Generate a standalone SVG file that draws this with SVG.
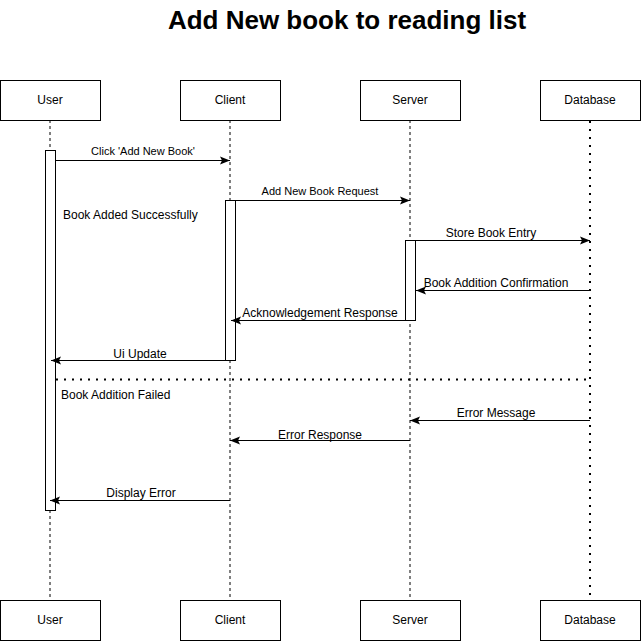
<svg xmlns="http://www.w3.org/2000/svg" width="642" height="641" viewBox="0 0 642 641">
<style>
.box{fill:#fff;stroke:#000;stroke-width:1}
.lbl{font-family:"Liberation Sans",Arial,sans-serif;font-size:12px;fill:#000;text-anchor:middle}
.msg{font-family:"Liberation Sans",Arial,sans-serif;font-size:12px;fill:#000;text-anchor:middle}
.sm{font-size:11px}
.note{font-family:"Liberation Sans",Arial,sans-serif;font-size:12px;fill:#000}
.life{stroke:#000;stroke-width:1;stroke-dasharray:3 3;fill:none}
.dot{stroke:#000;stroke-width:2;stroke-dasharray:2 6;fill:none}
.act{fill:#fff;stroke:#000;stroke-width:1}
.arr{stroke:#000;stroke-width:1;fill:none;marker-end:url(#ah)}
</style>
<defs>
<marker id="ah" viewBox="0 0 10 10" refX="10" refY="5" markerWidth="10" markerHeight="10" markerUnits="userSpaceOnUse" orient="auto">
<path d="M0,1 L10,5 L0,9 L2,5 Z" fill="#000"/>
</marker>
</defs>
<rect width="642" height="641" fill="#fff"/>
<text x="347" y="29" font-family="'Liberation Sans',Arial,sans-serif" font-size="26" font-weight="bold" text-anchor="middle">Add New book to reading list</text>
<g id="lifelines">
<line class="life" x1="50" y1="120" x2="50" y2="600"/>
<line class="life" x1="230" y1="120" x2="230" y2="600"/>
<line class="life" x1="410" y1="120" x2="410" y2="600"/>
<line class="dot" x1="590" y1="121" x2="590" y2="600"/>
</g>
<g id="user-top"><rect class="box" x="0.5" y="80.5" width="100" height="40"/><text class="lbl" x="50" y="104">User</text></g>
<g id="client-top"><rect class="box" x="180.5" y="80.5" width="100" height="40"/><text class="lbl" x="230" y="104">Client</text></g>
<g id="server-top"><rect class="box" x="360.5" y="80.5" width="100" height="40"/><text class="lbl" x="410" y="104">Server</text></g>
<g id="database-top"><rect class="box" x="540.5" y="80.5" width="100" height="40"/><text class="lbl" x="590" y="104">Database</text></g>
<g id="user-bottom"><rect class="box" x="0.5" y="600.5" width="100" height="40"/><text class="lbl" x="50" y="624">User</text></g>
<g id="client-bottom"><rect class="box" x="180.5" y="600.5" width="100" height="40"/><text class="lbl" x="230" y="624">Client</text></g>
<g id="server-bottom"><rect class="box" x="360.5" y="600.5" width="100" height="40"/><text class="lbl" x="410" y="624">Server</text></g>
<g id="database-bottom"><rect class="box" x="540.5" y="600.5" width="100" height="40"/><text class="lbl" x="590" y="624">Database</text></g>
<g id="activations">
<rect class="act" x="45.5" y="150.5" width="10" height="360"/>
<rect class="act" x="225.5" y="200.5" width="10" height="160"/>
<rect class="act" x="405.5" y="240.5" width="10" height="80"/>
</g>
<g id="connectors">
<line class="arr" x1="56" y1="160.5" x2="230" y2="160.5"/>
<line class="arr" x1="236" y1="200.5" x2="410" y2="200.5"/>
<line class="arr" x1="416" y1="240.5" x2="590" y2="240.5"/>
<line class="arr" x1="590" y1="290.5" x2="416" y2="290.5"/>
<line class="arr" x1="405" y1="320.5" x2="231" y2="320.5"/>
<line class="arr" x1="225" y1="360.5" x2="51" y2="360.5"/>
<line class="dot" x1="56" y1="379.5" x2="590" y2="379.5"/>
<line class="arr" x1="590" y1="420.5" x2="410" y2="420.5"/>
<line class="arr" x1="410" y1="440.5" x2="230" y2="440.5"/>
<line class="arr" x1="230" y1="500.5" x2="50" y2="500.5"/>
</g>
<g id="labels">
<text class="msg sm" x="143" y="155">Click 'Add New Book'</text>
<text class="msg sm" x="320" y="195">Add New Book Request</text>
<text class="msg" x="491" y="237">Store Book Entry</text>
<text class="msg" x="496" y="287">Book Addition Confirmation</text>
<text class="msg" x="320" y="317">Acknowledgement Response</text>
<text class="msg" x="140" y="358">Ui Update</text>
<text class="msg" x="496" y="417">Error Message</text>
<text class="msg" x="320" y="439">Error Response</text>
<text class="msg" x="141" y="497">Display Error</text>
<text class="note" x="63" y="219">Book Added Successfully</text>
<text class="note" x="61" y="399">Book Addition Failed</text>
</g>
</svg>
